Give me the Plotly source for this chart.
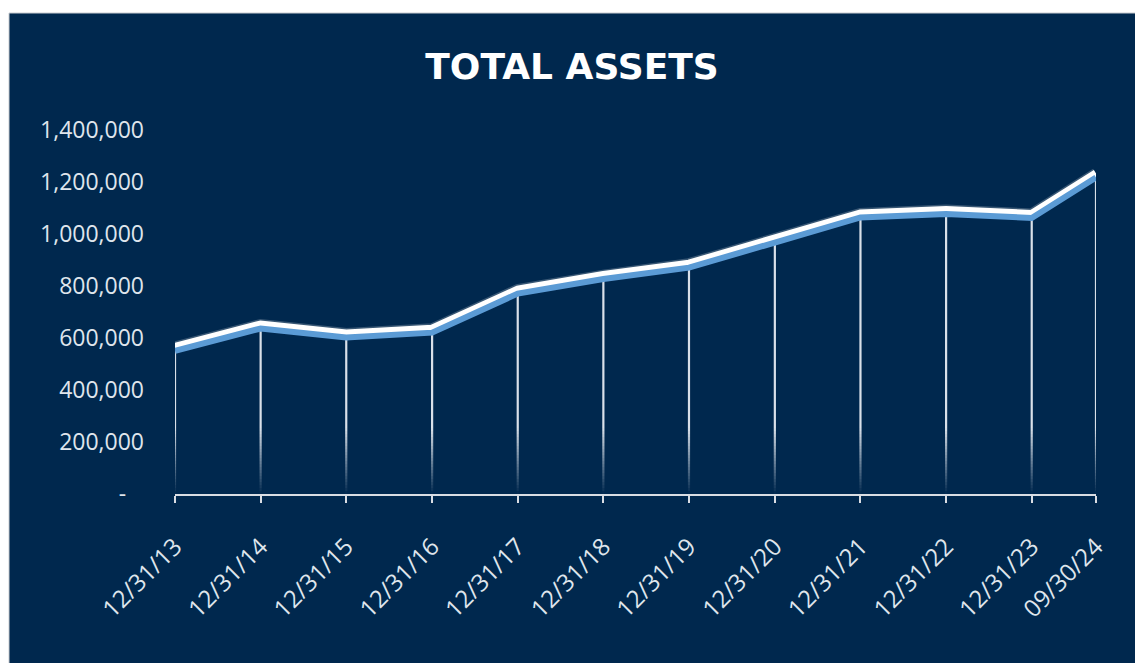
import plotly.graph_objects as go

# ---- data ----
dates = ["2013-12-31", "2014-12-31", "2015-12-31", "2016-12-31", "2017-12-31",
         "2018-12-31", "2019-12-31", "2020-12-31", "2021-12-31", "2022-12-31",
         "2023-12-31", "2024-09-30"]
date_labels = ["12/31/13", "12/31/14", "12/31/15", "12/31/16", "12/31/17",
               "12/31/18", "12/31/19", "12/31/20", "12/31/21", "12/31/22",
               "12/31/23", "09/30/24"]
total_assets = [566000, 652000, 617000, 636000, 786000, 842000,
                886000, 983000, 1079000, 1092000, 1077000, 1233000]
y_tickvals = [0, 200000, 400000, 600000, 800000, 1000000, 1200000, 1400000]
y_ticktext = ["-\u00a0\u00a0\u00a0", "200,000", "400,000", "600,000", "800,000",
              "1,000,000", "1,200,000", "1,400,000"]
title_text = "TOTAL ASSETS"

NAVY = "#00284e"
Y_MAX = 1400000
PLOT_H = 364                      # plot-area height in px
PX = Y_MAX / PLOT_H               # value per pixel
SHADOW_SHIFT = PX * 4             # 4px downward offset for the shadow axis

fig = go.Figure()

# drop lines fading toward the axis (bands aligned to whole pixels)
band_px = 3
n_bands = 22
fade_top = PX * band_px * n_bands
for k in range(n_bands + 1):
    if k < n_bands:
        lo = PX * band_px * k
        hi = PX * band_px * (k + 1)
        op = 0.92 * ((k + 0.5) / n_bands) ** 1.0
    else:
        lo, hi, op = fade_top, Y_MAX * 2, 0.92
    xs, ys = [], []
    for d, v in zip(dates, total_assets):
        if v > lo:
            xs += [d, d, None]
            ys += [lo, min(hi, v), None]
    fig.add_trace(go.Scatter(x=xs, y=ys, mode="lines",
                             line=dict(color=f"rgba(235,240,246,{op:.3f})", width=2.2),
                             hoverinfo="skip", showlegend=False))

# blue shadow (drawn on an offset overlay axis)
fig.add_trace(go.Scatter(x=dates, y=total_assets, mode="lines", yaxis="y2",
                         line=dict(color="#5b9bd5", width=6),
                         hoverinfo="skip", showlegend=False))
# soft glow
fig.add_trace(go.Scatter(x=dates, y=total_assets, mode="lines",
                         line=dict(color="rgba(255,255,255,0.22)", width=11),
                         hoverinfo="skip", showlegend=False))
# main white line
fig.add_trace(go.Scatter(x=dates, y=total_assets, mode="lines",
                         line=dict(color="#ffffff", width=8),
                         name="Total Assets", showlegend=False))

fig.update_layout(
    width=1135, height=663, autosize=False,
    margin=dict(l=175, r=39, t=130, b=169, pad=0),
    paper_bgcolor="white",
    plot_bgcolor="rgba(0,0,0,0)",
    title=dict(text=title_text, x=572 / 1135, xanchor="center",
               y=1 - 66 / 663, yanchor="middle",
               font=dict(family="DejaVu Sans", size=36, color="white", weight="bold")),
    xaxis=dict(type="date", range=[dates[0], dates[-1]],
               tickvals=dates, ticktext=date_labels, tickangle=-45,
               showgrid=False, zeroline=False,
               showline=True, linecolor="#d9dde3", linewidth=2,
               ticks="outside", ticklen=7, tickwidth=2, tickcolor="#d9dde3",
               ticklabelstandoff=20,
               tickfont=dict(family="Open Sans", size=24, color="#dfe5ec")),
    yaxis=dict(range=[0, Y_MAX], tickvals=y_tickvals, ticktext=y_ticktext,
               showgrid=False, zeroline=False, showline=False, ticks="",
               ticklabelstandoff=30,
               tickfont=dict(family="Open Sans", size=23, color="#dfe5ec")),
    yaxis2=dict(range=[SHADOW_SHIFT, Y_MAX + SHADOW_SHIFT], overlaying="y",
                visible=False),
    shapes=[dict(type="rect", xref="paper", yref="paper",
                 x0=(9 - 175) / 921, x1=(1140 - 175) / 921,
                 y0=(494 - 670) / 364, y1=(494 - 13) / 364,
                 fillcolor=NAVY, line=dict(color="#c9ccd0", width=1),
                 layer="below")],
)

fig.write_html("out.html", config={"displayModeBar": False},
               post_script="document.body.style.margin='0';")
